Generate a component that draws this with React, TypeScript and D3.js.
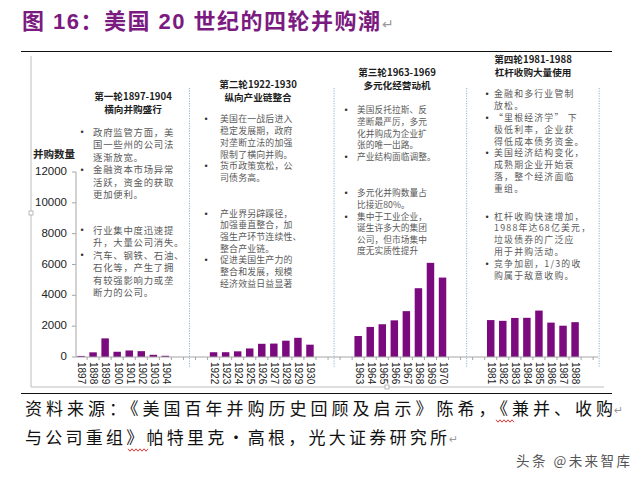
import * as d3 from "d3";

// 并购数量 by year, four merger waves
const wave1Years = ["1897", "1898", "1899", "1900", "1901", "1902", "1903", "1904"];
const wave1Deals = [69, 303, 1208, 340, 423, 379, 142, 79];
const wave2Years = ["1922", "1923", "1924", "1925", "1926", "1927", "1928", "1929", "1930"];
const wave2Deals = [309, 311, 368, 554, 856, 870, 1058, 1245, 799];
const wave3Years = ["1963", "1964", "1965", "1966", "1967", "1968", "1969", "1970"];
const wave3Deals = [1361, 1950, 2125, 2377, 2975, 4462, 6107, 5152];
const wave4Years = ["1981", "1982", "1983", "1984", "1985", "1986", "1987", "1988"];
const wave4Deals = [2395, 2346, 2533, 2543, 3011, 2230, 2030, 2260];

const yTickValues = [0, 2000, 4000, 6000, 8000, 10000, 12000];

const wave1Title = ["第一轮1897-1904", "横向并购盛行"];
const wave1Notes = [
  ["政府监管方面，美", "国一些州的公司法", "逐渐放宽。"],
  ["金融资本市场异常", "活跃，资金的获取", "更加便利。"],
  null,
  ["行业集中度迅速提", "升，大量公司消失。"],
  ["汽车、钢铁、石油、", "石化等，产生了拥", "有较强影响力或垄", "断力的公司。"],
];
const wave2Title = ["第二轮1922-1930", "纵向产业链整合"];
const wave2Notes = [
  ["美国在一战后进入", "稳定发展期，政府", "对垄断立法的加强", "限制了横向并购。"],
  ["货币政策宽松，公", "司债务高。"],
  null,
  ["产业界另辟蹊径，", "加强垂直整合，加", "强生产环节连续性、", "整合产业链。"],
  ["促进美国生产力的", "整合和发展，规模", "经济效益日益显著"],
];
const wave3Title = ["第三轮1963-1969", "多元化经营动机"];
const wave3Notes = [
  ["美国反托拉斯、反", "垄断最严厉，多元", "化并购成为企业扩", "张的唯一出路。"],
  ["产业结构面临调整。"],
  null,
  ["多元化并购数量占", "比接近80%。"],
  ["集中于工业企业，", "诞生许多大的集团", "公司，但市场集中", "度无实质性提升"],
];
const wave4Title = ["第四轮1981-1988", "杠杆收购大量使用"];
const wave4Notes = [
  ["金融和多行业管制", "放松。"],
  ["“里根经济学” 下", "极低利率，企业获", "得低成本债务资金。"],
  ["美国经济结构变化，", "成熟期企业开始衰", "落，整个经济面临", "重组。"],
  null,
  ["杠杆收购快速增加，", "1988年达68亿美元，", "垃圾债券的广泛应", "用于并购活动。"],
  ["竞争加剧，1/3的收", "购属于敌意收购。"],
];

const title = "图 16：美国 20 世纪的四轮并购潮";
const yLabel = "并购数量";
const sourceLine1 = "资料来源：《美国百年并购历史回顾及启示》陈希，《兼并、收购";
const sourceLine2 = "与公司重组》帕特里克·高根，光大证券研究所";
const watermark = "头条 @未来智库";

const gap = (k: number, n = 3) => d3.range(n).map((i) => `_${k}${i}`);
const slots = [
  ...wave1Years, ...gap(1),
  ...wave2Years, ...gap(2),
  ...wave3Years, ...gap(3),
  ...wave4Years, ...gap(4, 2),
];
const bars = [
  ...wave1Years.map((yr, i) => ({ yr, v: wave1Deals[i] })),
  ...wave2Years.map((yr, i) => ({ yr, v: wave2Deals[i] })),
  ...wave3Years.map((yr, i) => ({ yr, v: wave3Deals[i] })),
  ...wave4Years.map((yr, i) => ({ yr, v: wave4Deals[i] })),
];

const CJK = "'Noto Sans CJK SC', sans-serif";
const LAT = "'Liberation Sans', Arial, 'Noto Sans CJK SC', sans-serif";
const PURPLE = "#7a0a7e";

const x = d3.scaleBand<string>().domain(slots).range([75, 75 + slots.length * 12.05]).padding(0);
const y = d3.scaleLinear().domain([0, 12000]).range([357, 172]);
const barW = x.bandwidth() * 0.62;
const cx = (k: string) => (x(k) ?? 0) + x.bandwidth() / 2;

const panels = [
  { head: wave1Title, notes: wave1Notes, cx: 133, headY: 97, bx: 82, tx: 93, by: 133, lh: 12.5, gapH: 23, fs: 9.4, ls: 0.75 },
  { head: wave2Title, notes: wave2Notes, cx: 258, headY: 85, bx: 206, tx: 220, by: 120, lh: 11.7, gapH: 24, fs: 8.9, ls: 0.2 },
  { head: wave3Title, notes: wave3Notes, cx: 397, headY: 73, bx: 346, tx: 357, by: 111, lh: 11.6, gapH: 25, fs: 8.7, ls: 0.05 },
  { head: wave4Title, notes: wave4Notes, cx: 533, headY: 60, bx: 487, tx: 494, by: 95, lh: 11.8, gapH: 16, fs: 8.9, ls: 1.2 },
];
const separators = ["_11", "_21", "_31", "_41"];

function layoutNotes(p: (typeof panels)[number]) {
  const out: { t: string; y: number; bullet: boolean }[] = [];
  let yy = p.by;
  p.notes.forEach((item) => {
    if (!item) {
      yy += p.gapH;
      return;
    }
    item.forEach((t, i) => {
      out.push({ t, y: yy, bullet: i === 0 });
      yy += p.lh;
    });
  });
  return out;
}

function wavy(x0: number, x1: number, yy: number) {
  const pts: [number, number][] = [];
  for (let xx = x0, i = 0; xx <= x1; xx += 2, i++) pts.push([xx, yy + (i % 2 ? 1.2 : -1.2)]);
  return d3.line()(pts) ?? "";
}

const Panel = ({ p }: { p: (typeof panels)[number] }) => (
  <g>
    {p.head.map((h, i) => (
      <text key={h} x={p.cx} y={p.headY + i * 13} textAnchor="middle" dominantBaseline="middle"
        fontFamily={CJK} fontSize={9.6} fontWeight="bold" fill="#1d1d1d">{h}</text>
    ))}
    {layoutNotes(p).map((d, i) => (
      <g key={i}>
        {d.bullet && (
          <text x={p.bx} y={d.y} dominantBaseline="middle" textAnchor="middle" fontFamily={LAT} fontSize={9} fill="#333">•</text>
        )}
        <text x={p.tx} y={d.y} dominantBaseline="middle" fontFamily={CJK} fontSize={p.fs}
          letterSpacing={p.ls} fill="#5a5a5a">{d.t}</text>
      </g>
    ))}
  </g>
);

export default function App() {
  const axisEnd = cx("_41") - 1;
  return (
    <svg width={636} height={480} style={{ position: "absolute", left: 0, top: 0, background: "#fff" }}>
      {/* heading */}
      <text x={22} y={29} fontFamily={LAT} fontSize={22} fontWeight="bold" fill="#7b1a80"
        textLength={358} lengthAdjust="spacing">{title}</text>
      <text x={382} y={29} fontFamily="'DejaVu Sans'" fontSize={14} fill="#999">↵</text>
      <line x1={21} x2={612} y1={51.5} y2={51.5} stroke="#111" strokeWidth={1.2} />

      {/* picture frame */}
      <line x1={31} x2={31} y1={56} y2={387} stroke="#bdbdbd" />
      <line x1={31} x2={604} y1={387} y2={387} stroke="#bdbdbd" />
      <rect x={29} y={211} width={4} height={4} fill="#fff" stroke="#aaa" strokeWidth={0.8} />
      <rect x={385} y={385} width={4} height={4} fill="#fff" stroke="#aaa" strokeWidth={0.8} />

      {/* separators */}
      {separators.map((k) => (
        <line key={k} x1={cx(k)} x2={cx(k)} y1={88} y2={368} stroke="#8fb3dc" strokeWidth={1} strokeDasharray="1.2 1.3" />
      ))}

      {panels.map((p, i) => <Panel key={i} p={p} />)}

      {/* y axis */}
      <text x={33} y={155} dominantBaseline="middle" fontFamily={CJK} fontSize={10.5} fontWeight="bold" fill="#222">{yLabel}</text>
      <line x1={76} x2={76} y1={y(12000)} y2={y(0)} stroke="#a6a6a6" />
      {yTickValues.map((v) => (
        <g key={v}>
          <line x1={72} x2={76} y1={y(v)} y2={y(v)} stroke="#a6a6a6" />
          <text x={67} y={y(v)} textAnchor="end" dominantBaseline="middle" fontFamily={LAT} fontSize={11.5} fill="#222">{v}</text>
        </g>
      ))}

      {/* bars */}
      {bars.map((d) => (
        <rect key={d.yr} x={cx(d.yr) - barW / 2} y={y(d.v)} width={barW} height={y(0) - y(d.v)} fill={PURPLE} />
      ))}

      {/* x axis */}
      <line x1={76} x2={axisEnd} y1={y(0)} y2={y(0)} stroke="#a6a6a6" />
      {slots.slice(1).map((k) => (
        <line key={k} x1={x(k)} x2={x(k)} y1={y(0)} y2={y(0) + 3} stroke="#a6a6a6" />
      ))}
      {bars.map((d) => (
        <text key={d.yr} transform={`translate(${cx(d.yr)},${y(0) + 5}) rotate(90)`} dominantBaseline="middle"
          fontFamily={LAT} fontSize={10} fill="#222">{d.yr}</text>
      ))}

      {/* source */}
      <line x1={21} x2={612} y1={393.5} y2={393.5} stroke="#111" strokeWidth={1.2} />
      <text x={25} y={415} fontFamily={CJK} fontSize={17} fill="#111" textLength={588} lengthAdjust="spacing">{sourceLine1}</text>
      <text x={614} y={414} fontFamily="'DejaVu Sans'" fontSize={11} fill="#999">↵</text>
      <path d={wavy(496, 514, 421)} fill="none" stroke="#e02020" strokeWidth={0.9} />
      <text x={25} y={444} fontFamily={CJK} fontSize={17} fill="#111" textLength={422} lengthAdjust="spacing">{sourceLine2}</text>
      <text x={449} y={443} fontFamily="'DejaVu Sans'" fontSize={11} fill="#999">↵</text>
      <path d={wavy(128, 148, 450)} fill="none" stroke="#e02020" strokeWidth={0.9} />
      <text x={516} y={466} fontFamily={CJK} fontSize={13.5} fill="#555" textLength={114} lengthAdjust="spacing">{watermark}</text>
    </svg>
  );
}
